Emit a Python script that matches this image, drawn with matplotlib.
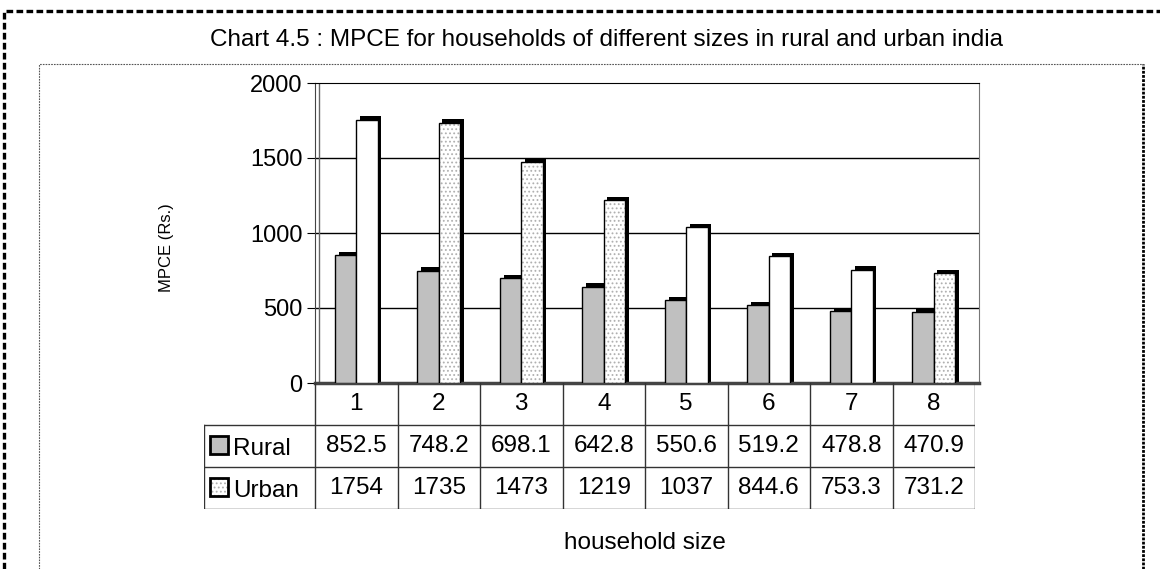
import matplotlib.pyplot as plt
from matplotlib.patches import Rectangle
from matplotlib.lines import Line2D

plt.rcParams['font.family'] = ['Liberation Sans', 'DejaVu Sans']
plt.rcParams['hatch.linewidth'] = 0.8

sizes = ["1", "2", "3", "4", "5", "6", "7", "8"]
rural = [852.5, 748.2, 698.1, 642.8, 550.6, 519.2, 478.8, 470.9]
urban = [1754, 1735, 1473, 1219, 1037, 844.6, 753.3, 731.2]
rural_txt = ["852.5", "748.2", "698.1", "642.8", "550.6", "519.2", "478.8", "470.9"]
urban_txt = ["1754", "1735", "1473", "1219", "1037", "844.6", "753.3", "731.2"]
urban_dotted = [False, True, True, True, False, False, False, True]

W, H = 1160, 569
fig = plt.figure(figsize=(W / 100, H / 100), dpi=100)


def fx(px):
    return px / W


def fy(py):
    return 1 - py / H


# outer dashed frame (runs off the right and bottom edges)
fig.add_artist(Line2D([fx(4), fx(4), 1.0], [0, fy(11), fy(11)],
                      color="black", lw=2.4, ls=(0, (2, 1))))
# inner dotted chart frame
fig.add_artist(Line2D([fx(39), fx(39), fx(1143)], [0, fy(64), fy(64)],
                      color="#555555", lw=0.8, ls=(0, (1.5, 1))))
fig.add_artist(Line2D([fx(1143), fx(1143)], [0, fy(64)], color="black", lw=2.0, ls=(0, (1, 0.5))))

fig.text(fx(607), fy(40), "Chart 4.5 : MPCE for households of different sizes in rural and urban india",
         ha="center", va="center", fontsize=17.5)

left, right, top, bottom = 315, 979, 83, 383
tab_right = 975
cw = (tab_right - left) / 8
xmax = (right - left) / cw

ax = fig.add_axes([fx(left), fy(bottom), fx(right - left), (bottom - top) / H])
ax.set_xlim(0, xmax)
ax.set_ylim(0, 2000)
ax.set_yticks([0, 500, 1000, 1500, 2000])
ax.set_yticklabels(["0", "500", "1000", "1500", "2000"], fontsize=17)
ax.set_xticks([])
for y in [500, 1000, 1500]:
    ax.axhline(y, color="black", lw=1, zorder=0)
ax.spines["top"].set_color("black")
ax.spines["right"].set_color("#777777")
ax.spines["left"].set_color("#444444")
ax.spines["bottom"].set_color("#444444")
ax.spines["bottom"].set_linewidth(2.5)
# side wall of the 3d frame
ax.axvline(0.05, color="#666666", lw=1, zorder=1)
ax.tick_params(axis="y", length=6, width=0.8, pad=3, direction="out")

bw = 0.26
dx, dy = 0.045, 24
xs = [i + 0.5 for i in range(8)]
for i, x in enumerate(xs):
    # black shadow gives the 3d depth
    ax.bar(x - bw / 2 + dx, rural[i] + dy, width=bw, color="black", zorder=2)
    ax.bar(x + bw / 2 + dx, urban[i] + dy, width=bw, color="black", zorder=2)
    ax.bar(x - bw / 2, rural[i], width=bw, color="#c0c0c0", edgecolor="black", lw=1.0, zorder=3)
    if urban_dotted[i]:
        ax.bar(x + bw / 2, urban[i], width=bw, color="white", edgecolor="#b0b0b0",
               hatch="....", lw=0, zorder=3)
        ax.bar(x + bw / 2, urban[i], width=bw, color="none", edgecolor="black", lw=1.0, zorder=4)
    else:
        ax.bar(x + bw / 2, urban[i], width=bw, color="white", edgecolor="black", lw=1.0, zorder=3)

fig.text(fx(167), fy(248), "MPCE (Rs.)", rotation=90, ha="center", va="center", fontsize=12)

# data table below the plot
leg_left = 204
row_h = 42
tab = fig.add_axes([fx(leg_left), fy(bottom + 3 * row_h), fx(tab_right - leg_left), 3 * row_h / H])
lw0 = (left - leg_left) / cw
tab.set_xlim(-lw0, 8)
tab.set_ylim(0, 3)
tab.axis("off")
gc = "#333333"
for k in range(0, 9):
    tab.plot([k, k], [0, 3], color=gc, lw=1)
tab.plot([-lw0, 8], [0, 0], color=gc, lw=1)
tab.plot([-lw0, 8], [1, 1], color=gc, lw=1)
tab.plot([-lw0, 8], [2, 2], color=gc, lw=1)
tab.plot([-lw0, -lw0], [0, 2], color=gc, lw=1)
for i in range(8):
    tab.text(i + 0.5, 2.5, sizes[i], ha="center", va="center", fontsize=17.5)
    tab.text(i + 0.5, 1.5, rural_txt[i], ha="center", va="center", fontsize=17.5)
    tab.text(i + 0.5, 0.5, urban_txt[i], ha="center", va="center", fontsize=17.5)

kx = -lw0 + 0.07
kw = 18 / cw
tab.add_patch(Rectangle((kx, 1.3), kw, 0.45, facecolor="#c0c0c0", edgecolor="black", lw=2))
tab.add_patch(Rectangle((kx, 0.3), kw, 0.45, facecolor="white", edgecolor="#b0b0b0", hatch="....", lw=0))
tab.add_patch(Rectangle((kx, 0.3), kw, 0.45, facecolor="none", edgecolor="black", lw=2))
tab.text(kx + kw + 0.06, 1.42, "Rural", ha="left", va="center", fontsize=17.5)
tab.text(kx + kw + 0.06, 0.42, "Urban", ha="left", va="center", fontsize=17.5)

fig.text(fx(645), fy(543), "household size", ha="center", va="center", fontsize=17.5)

fig.savefig("out.png", dpi=100)
